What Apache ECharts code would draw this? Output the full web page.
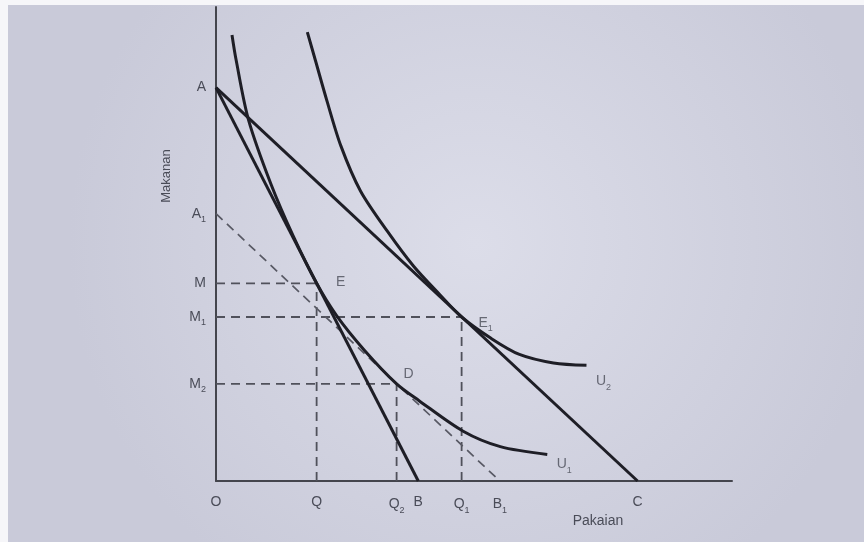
<!DOCTYPE html>
<html><head><meta charset="utf-8">
<script src="https://cdn.jsdelivr.net/npm/echarts@6/dist/echarts.min.js"></script>
<style>html,body{margin:0;padding:0;background:#d2d3e0}#c{width:864px;height:542px}</style>
</head><body><div id="c"></div>
<script>
// Tick positions (economic units) and labels
const xTickValues = [0, 19.5, 35, 39.2, 47.6, 55, 81.7];
const xTickLabels = ['O', 'Q', 'Q2', 'B', 'Q1', 'B1', 'C'];
const yTickValues = [83, 56.4, 41.7, 34.6, 20.5];
const yTickLabels = ['A', 'A1', 'M', 'M1', 'M2'];
// Indifference curves
const u1X = [3.1, 3.9, 6.3, 10.7, 15.0, 19.5, 23.3, 28.75, 35, 39.35, 47.9, 55.1, 64.2];
const u1Y = [94.1, 88.8, 76.2, 62.5, 51.6, 41.7, 35.0, 27.6, 20.5, 16.95, 10.5, 7.25, 5.6];
const u2X = [17.7, 19.3, 21.5, 24.2, 28.0, 33.2, 38.3, 43.3, 47.6, 53.3, 58.8, 65.4, 71.8];
const u2Y = [94.7, 88.6, 80.2, 70.7, 61.2, 52.7, 45.3, 39.4, 34.6, 30.1, 26.7, 24.9, 24.4];
const pointNames = ['E', 'E1', 'D'];

const X = n => xTickValues[xTickLabels.indexOf(n)];
const Y = n => yTickValues[yTickLabels.indexOf(n)];
const zip = (a, b) => a.map((v, i) => [v, b[i]]);
const toRich = s => { const m = s.match(/^([A-Z])(\d?)$/); return '{b|' + m[1] + '}' + (m[2] ? '{s|' + m[2] + '}' : ''); };

const TXT = '#4a4c58';
const INK = '#1e1e26';
const rich = {
  b: { fontSize: 14, color: TXT, fontFamily: 'Liberation Sans', lineHeight: 16 },
  s: { fontSize: 9, color: TXT, fontFamily: 'Liberation Sans', lineHeight: 21, verticalAlign: 'bottom' }
};

const pts = { E: [X('Q'), Y('M')], E1: [X('Q1'), Y('M1')], D: [X('Q2'), Y('M2')] };
const labelOffsets = { E: [24, -1], E1: [24, 6], D: [12, -10], U1: [17, 10], U2: [17, 16] };

const guides = [
  [[0, Y('M')], pts.E], [[X('Q'), 0], pts.E],
  [[0, Y('M1')], pts.E1], [[X('Q1'), 0], pts.E1],
  [[0, Y('M2')], pts.D], [[X('Q2'), 0], pts.D]
];

const series = [];
guides.forEach(g => series.push({
  type: 'line', data: g, symbol: 'none', silent: true,
  lineStyle: { color: '#50515b', width: 1.8, type: [9, 6] }
}));
series.push({ type: 'line', data: [[0, Y('A1')], [X('B1'), 0]], symbol: 'none',
  lineStyle: { color: '#585964', width: 1.7, type: [9, 6] } });
series.push({ type: 'line', data: [[0, Y('A')], [X('B'), 0]], symbol: 'none',
  lineStyle: { color: INK, width: 3 } });
series.push({ type: 'line', data: [[0, Y('A')], [X('C'), 0]], symbol: 'none',
  lineStyle: { color: INK, width: 3 } });
series.push({ type: 'line', data: zip(u1X, u1Y), symbol: 'none', smooth: 0.3,
  lineStyle: { color: INK, width: 3 } });
series.push({ type: 'line', data: zip(u2X, u2Y), symbol: 'none', smooth: 0.3,
  lineStyle: { color: INK, width: 3 } });

const labelData = pointNames.map(n => ({ name: n, value: pts[n] }))
  .concat([{ name: 'U1', value: [u1X[u1X.length - 1], u1Y[u1Y.length - 1]] },
           { name: 'U2', value: [u2X[u2X.length - 1], u2Y[u2Y.length - 1]] }]);
series.push({
  type: 'scatter', symbolSize: 0, silent: true,
  data: labelData.map(d => ({ name: d.name, value: d.value,
    label: { show: true, position: 'inside', offset: labelOffsets[d.name], formatter: toRich(d.name), rich } }))
});

const chart = echarts.init(document.getElementById('c'), null, { renderer: 'canvas' });
chart.setOption({
  animation: false,
  backgroundColor: 'transparent',
  graphic: [
    { type: 'rect', z: -10, silent: true, shape: { x: 0, y: 0, width: 864, height: 542 },
      style: { fill: { type: 'radial', x: 0.55, y: 0.45, r: 0.75,
        colorStops: [{ offset: 0, color: '#dcdde9' }, { offset: 1, color: '#c9cad9' }] } } },
    { type: 'rect', z: -9, silent: true, shape: { x: 0, y: 0, width: 864, height: 5 }, style: { fill: '#f6f6f9' } },
    { type: 'rect', z: -9, silent: true, shape: { x: 0, y: 0, width: 8, height: 542 }, style: { fill: '#f6f6f9' } },
    { type: 'text', x: 598, y: 521, style: { text: 'Pakaian', fill: TXT, font: '14px "Liberation Sans"', align: 'center', verticalAlign: 'middle' } },
    { type: 'text', x: 166, y: 176, rotation: Math.PI / 2, style: { text: 'Makanan', fill: TXT, font: '13px "Liberation Sans"', align: 'center', verticalAlign: 'middle' } }
  ],
  grid: { left: 216, right: 132, top: 7, bottom: 61 },
  xAxis: {
    type: 'value', min: 0, max: 100,
    axisLine: { show: true, lineStyle: { color: '#44454d', width: 2 } },
    axisTick: { show: false }, splitLine: { show: false },
    axisLabel: { customValues: xTickValues, margin: 13, rich,
      formatter: v => toRich(xTickLabels[xTickValues.findIndex(t => Math.abs(t - v) < 1e-6)]) }
  },
  yAxis: {
    type: 'value', min: 0, max: 100,
    axisLine: { show: true, lineStyle: { color: '#44454d', width: 2 } },
    axisTick: { show: false }, splitLine: { show: false },
    axisLabel: { customValues: yTickValues, margin: 10, rich,
      formatter: v => toRich(yTickLabels[yTickValues.findIndex(t => Math.abs(t - v) < 1e-6)]) }
  },
  series
});
</script></body></html>
